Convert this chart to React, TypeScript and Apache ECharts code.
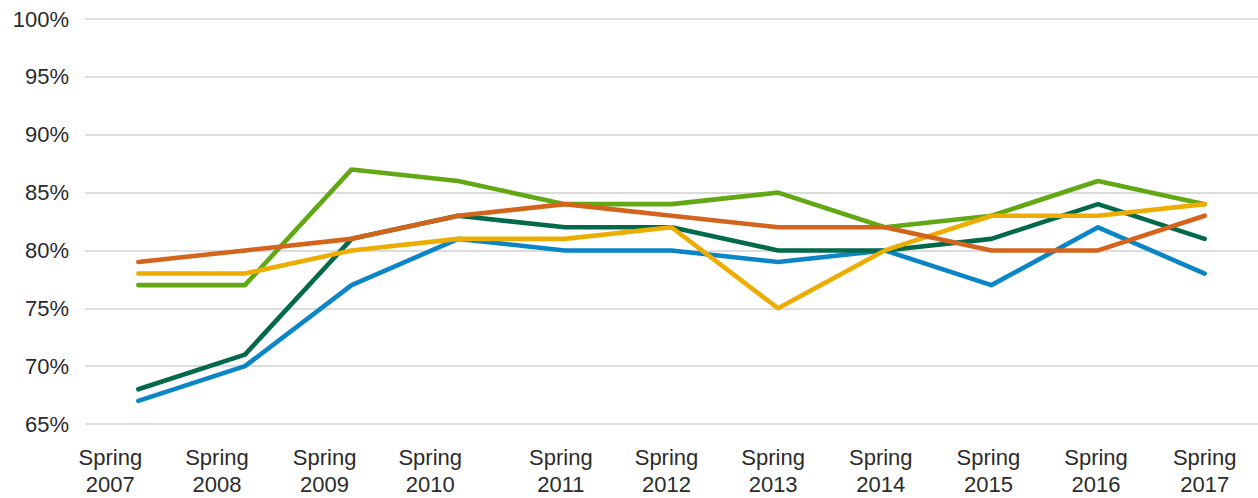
import React, { useEffect, useRef } from "react";
import * as echarts from "echarts";

const categories = [
  "Spring\n2007", "Spring\n2008", "Spring\n2009", "Spring\n2010", "Spring\n2011", "Spring\n2012",
  "Spring\n2013", "Spring\n2014", "Spring\n2015", "Spring\n2016", "Spring\n2017",
];

const blueValues = [67, 70, 77, 81, 80, 80, 79, 80, 77, 82, 78];
const darkGreenValues = [68, 71, 81, 83, 82, 82, 80, 80, 81, 84, 81];
const lightGreenValues = [77, 77, 87, 86, 84, 84, 85, 82, 83, 86, 84];
const yellowValues = [78, 78, 80, 81, 81, 82, 75, 80, 83, 83, 84];
const orangeValues = [79, 80, 81, 83, 84, 83, 82, 82, 80, 80, 83];

const yTicks = { min: 65, max: 100, interval: 5 };

// label shifts (px, leftwards) reproducing the original layout of the tick labels
const labelShift = [28, 28, 27, 28, 4, 5, 5, 4, 3, 2, 0];

const FONT = "'Liberation Sans', Arial, sans-serif";

export default function App() {
  const ref = useRef<HTMLDivElement>(null);
  useEffect(() => {
    if (!ref.current) return;
    const chart = echarts.init(ref.current, null, { renderer: "svg" });
    const mk = (name: string, data: number[], color: string) => ({
      name,
      type: "line",
      data,
      symbol: "none",
      lineStyle: { color, width: 4.6, cap: "round", join: "round" },
      itemStyle: { color },
    });
    chart.setOption({
      animation: false,
      backgroundColor: "#ffffff",
      grid: { left: 85, right: 0, top: 19, bottom: 74 },
      xAxis: {
        type: "category",
        boundaryGap: true,
        data: categories.map((c, i) => ({
          value: c,
          textStyle: { padding: [0, labelShift[i] * 2, 0, 0] },
        })),
        axisLine: { show: false },
        axisTick: { show: false },
        axisLabel: {
          margin: 20,
          fontSize: 22,
          lineHeight: 27,
          color: "#2b2b2b",
          fontFamily: FONT,
          interval: 0,
        },
      },
      yAxis: {
        type: "value",
        min: yTicks.min,
        max: yTicks.max,
        interval: yTicks.interval,
        axisLine: { show: false },
        axisTick: { show: false },
        splitLine: { lineStyle: { color: "#d0d0d0", width: 1.5 } },
        axisLabel: {
          formatter: "{value}%",
          margin: 16,
          fontSize: 22,
          color: "#2b2b2b",
          fontFamily: FONT,
        },
      },
      series: [
        mk("Blue", blueValues, "#0a85c6"),
        mk("Dark green", darkGreenValues, "#026a4b"),
        mk("Light green", lightGreenValues, "#61a814"),
        mk("Yellow", yellowValues, "#ecad00"),
        mk("Orange", orangeValues, "#d4641c"),
      ],
    });
    return () => chart.dispose();
  }, []);
  return (
    <div
      ref={ref}
      style={{ position: "fixed", left: 0, top: 0, width: 1258, height: 498, background: "#fff" }}
    />
  );
}
